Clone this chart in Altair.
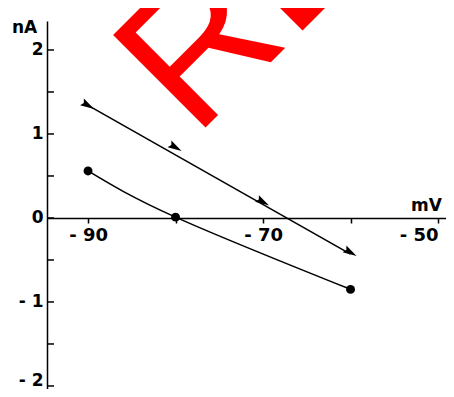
import altair as alt
import pandas as pd

# data
tri_mv = [-90, -80, -70, -60]
tri_na = [1.34, 0.84, 0.19, -0.41]
circ_mv = [-90, -80, -60]
circ_na = [0.56, 0.01, -0.85]
fit_mv = [-90, -60]
fit_na = [1.34, -0.43]
x_ticks = [-90, -80, -70, -60, -50]
y_labels = [-2, -1, 0, 1, 2]
y_ticks = [-2, -1.5, -1, -0.5, 0, 0.5, 1, 1.5, 2]
mark_text = ["RE"]

tri = pd.DataFrame({"mv": tri_mv, "na": tri_na})
circ = pd.DataFrame({"mv": circ_mv, "na": circ_na})
fit = pd.DataFrame({"mv": fit_mv, "na": fit_na})
yt = pd.DataFrame({"na": y_ticks})
wm = pd.DataFrame({"t": mark_text, "mv": [-77.84], "na": [0.945]})

FONT = "DejaVu Sans"
XDOM = [-94.69, -49.09]
YDOM = [-2.036, 2.345]

x_enc = alt.X(
    "mv:Q",
    scale=alt.Scale(domain=XDOM, nice=False, zero=False),
    axis=alt.Axis(
        values=x_ticks,
        labelExpr="(datum.value == -80 || datum.value == -60) ? '' : '- ' + abs(datum.value)",
        labelAlign={"condition": {"test": "datum.value == -50", "value": "right"}, "value": "center"},
        offset=-171,
        tickSize=5,
        tickWidth=1.5,
        tickColor="black",
        domainColor="black",
        domainWidth=1.5,
        labelFont=FONT,
        labelFontSize=18,
        labelFontWeight="bold",
        labelColor="black",
        labelPadding=3,
        labelFlush=False,
        grid=False,
        title="mV",
        titleFont=FONT,
        titleFontSize=17,
        titleFontWeight="bold",
        titleColor="black",
        titleX=379,
        titleY=-8,
        titleAlign="center",
        titleBaseline="alphabetic",
        titleAngle=0,
    ),
)
y_enc = alt.Y(
    "na:Q",
    scale=alt.Scale(domain=YDOM, nice=False, zero=False),
    axis=alt.Axis(
        values=y_labels,
        labelExpr="datum.value < 0 ? '- ' + abs(datum.value) : '' + datum.value",
        labelBaseline={"condition": {"test": "datum.value == -2", "value": "alphabetic"}, "value": "middle"},
        ticks=False,
        domainColor="black",
        domainWidth=1.5,
        labelFont=FONT,
        labelFontSize=17,
        labelFontWeight="bold",
        labelColor="black",
        labelPadding=4,
        labelFlush=False,
        grid=False,
        title="nA",
        titleFont=FONT,
        titleFontSize=17,
        titleFontWeight="bold",
        titleColor="black",
        titleAngle=0,
        titleX=-23,
        titleY=6,
        titleAlign="center",
        titleBaseline="middle",
    ),
)

ticks = alt.Chart(yt).mark_rule(color="black", strokeWidth=1.5).encode(
    y=alt.Y("na:Q", scale=alt.Scale(domain=YDOM, nice=False, zero=False)),
    x=alt.value(0),
    x2=alt.value(7),
)

fit_line = alt.Chart(fit).mark_line(color="black", strokeWidth=1.6).encode(
    x=x_enc, y=y_enc
)
circ_line = alt.Chart(circ).mark_line(
    color="black", strokeWidth=1.6, interpolate="natural"
).encode(x="mv:Q", y="na:Q")

arrow = "M1,0L-1,-0.55L-0.7,0L-1,0.55Z"
tri_pts = alt.Chart(tri).mark_point(
    shape=arrow, filled=True, color="black", size=196, angle=30, opacity=1
).encode(x="mv:Q", y="na:Q")
circ_pts = alt.Chart(circ).mark_point(
    shape="circle", filled=True, color="black", size=80, opacity=1
).encode(x="mv:Q", y="na:Q")

watermark = alt.Chart(wm).mark_text(
    font="Liberation Sans",
    fontSize=190,
    color="#ff0000",
    angle=315,
    align="left",
    baseline="alphabetic",
).encode(x="mv:Q", y="na:Q", text="t:N")

chart = (
    alt.layer(fit_line, ticks, circ_line, tri_pts, circ_pts, watermark)
    .properties(
        width=399,
        height=368,
        autosize=alt.AutoSizeParams(type="none"),
        padding={"left": 39, "top": 13, "right": 0, "bottom": 0},
        background="white",
    )
    .configure_view(stroke=None)
)

chart.save("out.html", embed_options={"renderer": "svg", "actions": False})
